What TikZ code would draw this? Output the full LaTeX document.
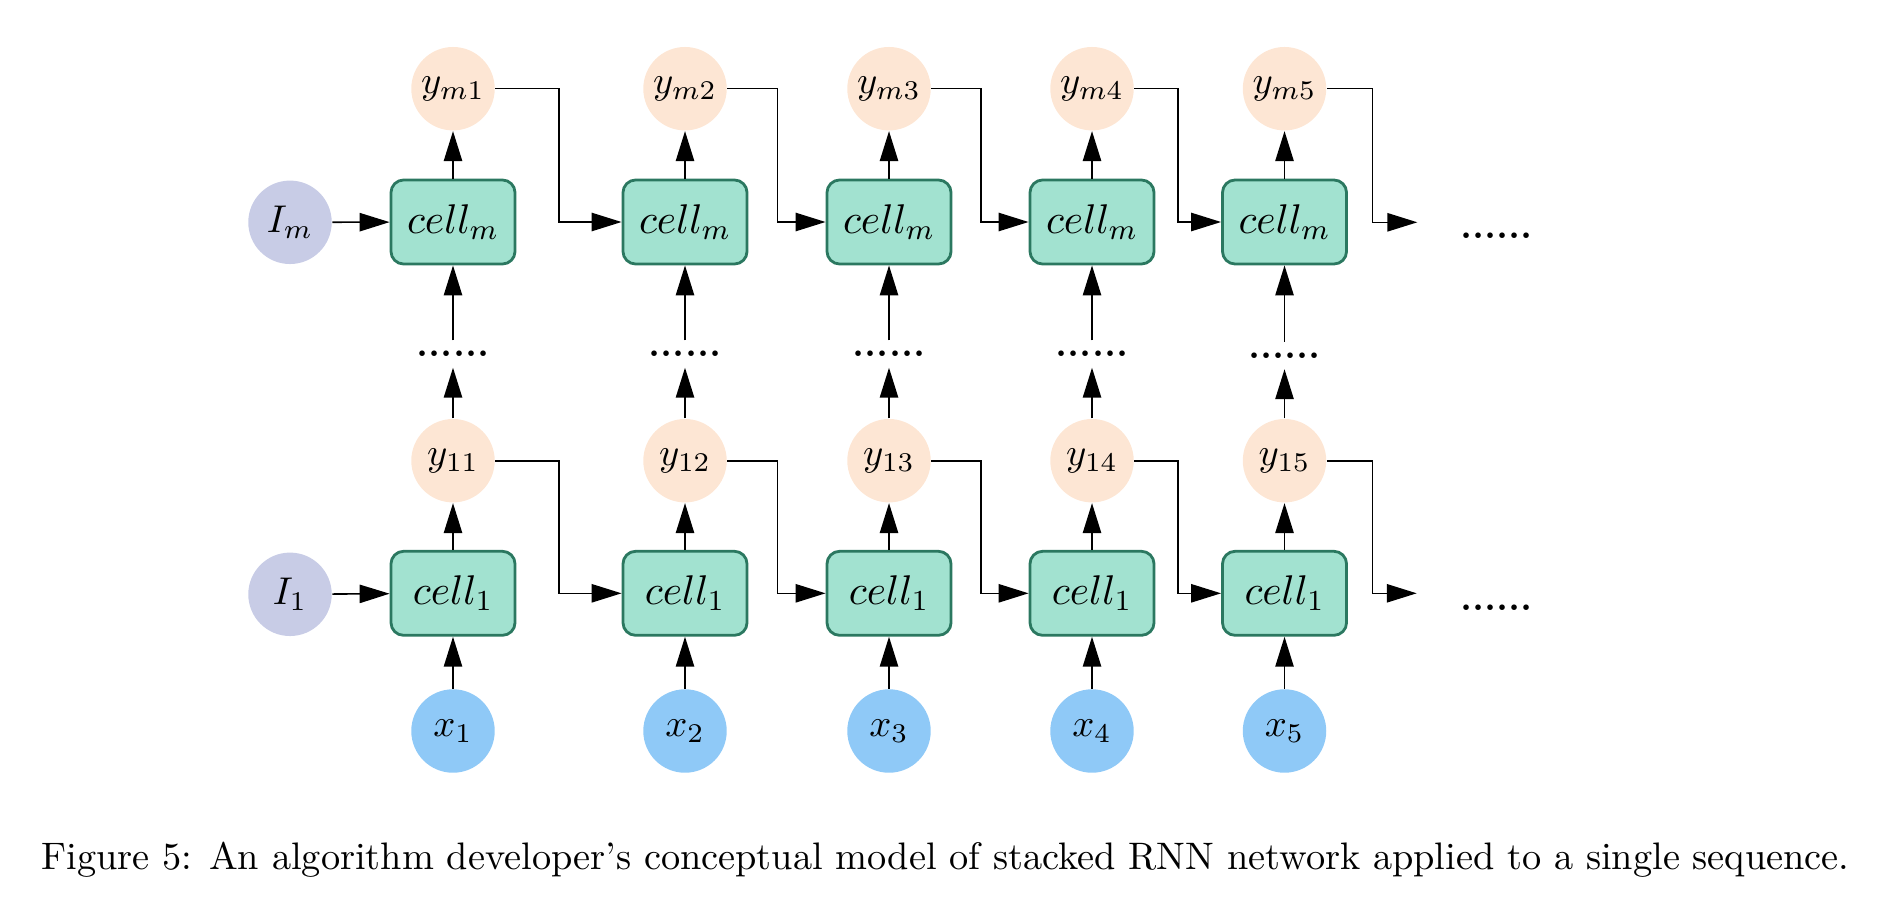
\documentclass[tikz,border=0pt]{standalone}
\usepackage{fix-cm}
\usepackage{fontspec}
\usetikzlibrary{arrows.meta}
\definecolor{cellfill}{HTML}{A2E2D0}
\definecolor{celldraw}{HTML}{2B7860}
\definecolor{yfill}{HTML}{FDE6D4}
\definecolor{ifill}{HTML}{C8CCE6}
\definecolor{xfill}{HTML}{8FC9F7}
\begin{document}
\begin{tikzpicture}[x=0.01cm, y=0.01cm]
\tikzstyle{every node}+=[inner sep=0pt]
\tikzstyle{cellbox}=[draw=celldraw, fill=cellfill, line width=0.8pt, rounded corners=3.6pt, minimum width=1.24cm, minimum height=0.84cm, font=\fontsize{11.8}{13}\selectfont]
\tikzstyle{ball}=[circle, minimum size=0.834cm, font=\fontsize{11}{12}\selectfont]
\tikzstyle{ynode}=[ball, fill=yfill]
\tikzstyle{inode}=[ball, fill=ifill]
\tikzstyle{xnode}=[ball, fill=xfill]
\tikzstyle{dotsnode}=[minimum height=0.26cm, font=\fontsize{11}{12}\bfseries]
\tikzstyle{arr}=[black, line width=0.45pt, -{Triangle[length=8.5pt,width=5.2pt]}]
\useasboundingbox (0,0) rectangle (1889,-921);
\node [inode] (Im) at (290,-222.3) {$I_m$};
\node [inode] (I1) at (290,-594.3) {$I_1$};
\node [cellbox] (cm1) at (453,-222) {$cell_m$};
\node [cellbox] (cm2) at (685,-222) {$cell_m$};
\node [cellbox] (cm3) at (889,-222) {$cell_m$};
\node [cellbox] (cm4) at (1092,-222) {$cell_m$};
\node [cellbox] (cm5) at (1284.5,-222) {$cell_m$};
\node [cellbox] (c11) at (453,-593.3) {$cell_1$};
\node [cellbox] (c12) at (685,-593.3) {$cell_1$};
\node [cellbox] (c13) at (889,-593.3) {$cell_1$};
\node [cellbox] (c14) at (1092,-593.3) {$cell_1$};
\node [cellbox] (c15) at (1284.5,-593.3) {$cell_1$};
\node [ynode] (ym1) at (453,-88.7) {$y_{m1}$};
\node [ynode] (ym2) at (685,-88.7) {$y_{m2}$};
\node [ynode] (ym3) at (889,-88.7) {$y_{m3}$};
\node [ynode] (ym4) at (1092,-88.7) {$y_{m4}$};
\node [ynode] (ym5) at (1284.5,-88.7) {$y_{m5}$};
\node [ynode] (y11) at (453,-460.7) {$y_{11}$};
\node [ynode] (y12) at (685,-460.7) {$y_{12}$};
\node [ynode] (y13) at (889,-460.7) {$y_{13}$};
\node [ynode] (y14) at (1092,-460.7) {$y_{14}$};
\node [ynode] (y15) at (1284.5,-460.7) {$y_{15}$};
\node [xnode] (x1) at (453,-731) {$x_1$};
\node [xnode] (x2) at (685,-731) {$x_2$};
\node [xnode] (x3) at (889,-731) {$x_3$};
\node [xnode] (x4) at (1092,-731) {$x_4$};
\node [xnode] (x5) at (1284.5,-731) {$x_5$};
\node [dotsnode] (d1) at (453,-354) {......};
\node [dotsnode] (d2) at (685,-354) {......};
\node [dotsnode] (d3) at (889,-354) {......};
\node [dotsnode] (d4) at (1092,-354) {......};
\node [dotsnode] (d5) at (1284.5,-355.5) {......};
\node [dotsnode] (em) at (1496.7,-235.7) {......};
\node [dotsnode] (e1) at (1496.7,-607.3) {......};
\coordinate (om) at (1417.3,-222.3);
\coordinate (o1) at (1416.7,-593.3);
\draw [arr] (Im) -- (cm1);
\draw [arr] (I1) -- (c11);
\draw [arr] (x1) -- (c11);
\draw [arr] (x2) -- (c12);
\draw [arr] (x3) -- (c13);
\draw [arr] (x4) -- (c14);
\draw [arr] (x5) -- (c15);
\draw [arr] (c11) -- (y11);
\draw [arr] (c12) -- (y12);
\draw [arr] (c13) -- (y13);
\draw [arr] (c14) -- (y14);
\draw [arr] (c15) -- (y15);
\draw [arr] (y11) -- (d1);
\draw [arr] (y12) -- (d2);
\draw [arr] (y13) -- (d3);
\draw [arr] (y14) -- (d4);
\draw [arr] (y15) -- (d5);
\draw [arr] (d1) -- (cm1);
\draw [arr] (d2) -- (cm2);
\draw [arr] (d3) -- (cm3);
\draw [arr] (d4) -- (cm4);
\draw [arr] (d5) -- (cm5);
\draw [arr] (cm1) -- (ym1);
\draw [arr] (cm2) -- (ym2);
\draw [arr] (cm3) -- (ym3);
\draw [arr] (cm4) -- (ym4);
\draw [arr] (cm5) -- (ym5);
\draw [arr] (ym1.east) -- ++(63.6,0) |- (cm2.west);
\draw [arr] (ym2.east) -- ++(50,0) |- (cm3.west);
\draw [arr] (ym3.east) -- ++(49.3,0) |- (cm4.west);
\draw [arr] (ym4.east) -- ++(43.3,0) |- (cm5.west);
\draw [arr] (ym5.east) -- ++(45.5,0) |- (om);
\draw [arr] (y11.east) -- ++(63.6,0) |- (c12.west);
\draw [arr] (y12.east) -- ++(50,0) |- (c13.west);
\draw [arr] (y13.east) -- ++(49.3,0) |- (c14.west);
\draw [arr] (y14.east) -- ++(43.3,0) |- (c15.west);
\draw [arr] (y15.east) -- ++(45.5,0) |- (o1);
\node [anchor=base west, font=\fontsize{10.9}{12}\selectfont] (cap) at (40.7,-869.3) {Figure 5: An algorithm developer's conceptual model of stacked RNN network applied to a single sequence.};
\end{tikzpicture}
\end{document}
